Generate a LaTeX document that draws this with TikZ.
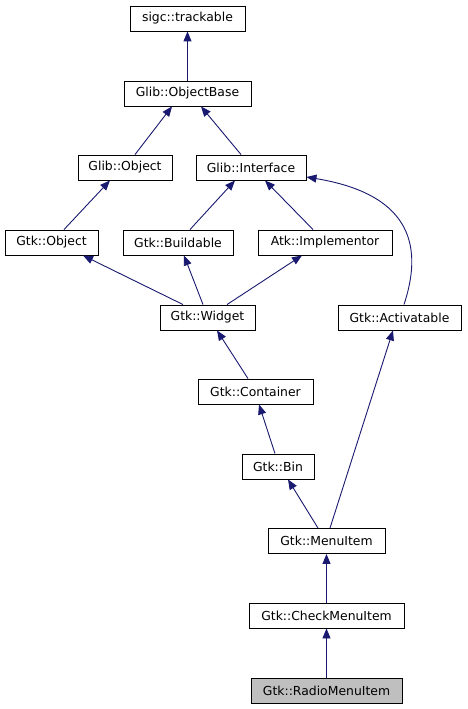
\documentclass[tikz,border=0pt]{standalone}
\usepackage{fontspec}
\setmainfont{DejaVu Sans}
\usetikzlibrary{arrows.meta}
\definecolor{edgeblue}{RGB}{25,25,112}
\definecolor{hlgray}{RGB}{191,191,191}
\tikzset{
  cls/.style={draw=black, line width=0.9pt, fill=white, minimum height=25pt, inner sep=0pt,
    font=\fontsize{12.4}{14}\selectfont, anchor=center},
  hl/.style={cls, fill=hlgray},
  inh/.style={draw=edgeblue, line width=0.9pt, -{Triangle[length=10pt,width=8pt]}}
}
\begin{document}
\begin{tikzpicture}[x=1pt,y=-1pt]
\useasboundingbox[fill=white] (0,0) rectangle (467,709);
\node[cls, minimum width=115pt] (tr) at (187.5,18.5) {sigc::trackable};
\node[cls, minimum width=127pt] (ob) at (187.5,93.5) {Glib::ObjectBase};
\node[cls, minimum width=94pt] (go) at (125,167.5) {Glib::Object};
\node[cls, minimum width=110pt] (if) at (251,167.5) {Glib::Interface};
\node[cls, minimum width=93pt] (to) at (51.5,242.5) {Gtk::Object};
\node[cls, minimum width=110pt] (bu) at (178,242.5) {Gtk::Buildable};
\node[cls, minimum width=134pt] (im) at (325,242.5) {Atk::Implementor};
\node[cls, minimum width=95pt] (wi) at (207.5,317.5) {Gtk::Widget};
\node[cls, minimum width=123pt] (ac) at (399.5,317.5) {Gtk::Activatable};
\node[cls, minimum width=115pt] (co) at (255.5,391.5) {Gtk::Container};
\node[cls, minimum width=72pt] (bi) at (278,466.5) {Gtk::Bin};
\node[cls, minimum width=117pt] (mi) at (326.5,541) {Gtk::MenuItem};
\node[cls, minimum width=155pt] (cm) at (326.5,615.5) {Gtk::CheckMenuItem};
\node[hl, minimum width=151pt] (rm) at (326.5,690.5) {Gtk::RadioMenuItem};

\draw[inh] (ob.north) -- (tr.south);
\draw[inh] ([xshift=10pt]go.north) -- ([xshift=-15.5pt]ob.south);
\draw[inh] ([xshift=-10pt]if.north) -- ([xshift=13.5pt]ob.south);
\draw[inh] ([xshift=12.5pt]to.north) -- ([xshift=-15pt]go.south);
\draw[inh] ([xshift=12pt]bu.north) -- ([xshift=-16pt]if.south);
\draw[inh] ([xshift=-12pt]im.north) -- ([xshift=14pt]if.south);
\draw[inh] ([xshift=4.5pt]ac.north) .. controls (422,250) and (415,195) .. ([yshift=-9.5pt]if.east);
\draw[inh] ([xshift=-24.5pt]wi.north) -- ([xshift=31.5pt]to.south);
\draw[inh] ([xshift=-4.5pt]wi.north) -- ([xshift=6pt]bu.south);
\draw[inh] ([xshift=19.5pt]wi.north) -- ([xshift=-23pt]im.south);
\draw[inh] ([xshift=-7.5pt]co.north) -- ([xshift=9.5pt]wi.south);
\draw[inh] ([xshift=-3pt]bi.north) -- ([xshift=3.5pt]co.south);
\draw[inh] ([xshift=-8.5pt]mi.north) -- ([xshift=10pt]bi.south);
\draw[inh] ([xshift=3.5pt]mi.north) -- ([xshift=-6.5pt]ac.south);
\draw[inh] (cm.north) -- (mi.south);
\draw[inh] (rm.north) -- (cm.south);
\end{tikzpicture}
\end{document}
